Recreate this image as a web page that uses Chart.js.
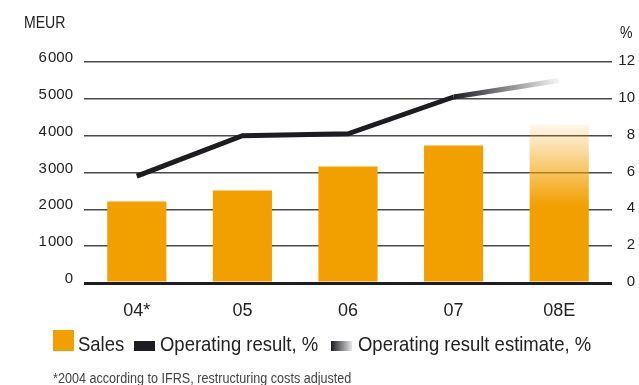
<!DOCTYPE html>
<html>
<head>
<meta charset="utf-8">
<script src="https://cdn.jsdelivr.net/npm/chart.js@4.4.1/dist/chart.umd.min.js"></script>
<style>
  body { margin: 0; background: #fff; }
  #wrap { position: relative; width: 639px; height: 385px; overflow: hidden;
          font-family: 'Liberation Sans', Arial, sans-serif; color: #222; }
  #chart { position: absolute; left: 0; top: 0; }
  .txt { position: absolute; white-space: nowrap; transform: scaleX(0.88); transform-origin: 0 0; }
  .unit { font-size: 16px; line-height: 16px; }
  .leg { font-size: 21px; line-height: 21px; top: 333px; }
  .sw { position: absolute; width: 21px; }
  #note { left: 53px; top: 371px; font-size: 14px; line-height: 14px; color: #444; transform: scaleX(0.9); }
</style>
</head>
<body>
<div id="wrap">
  <canvas id="chart" width="639" height="385"></canvas>
  <div class="txt unit" style="left:24px;top:15px">MEUR</div>
  <div class="txt unit" style="left:620px;top:25px">%</div>
  <div id="legend"></div>
  <div id="note" class="txt">*2004 according to IFRS, restructuring costs adjusted</div>
</div>
<script>
// categories and values
const years = ['04*', '05', '06', '07', '08E'];
const sales = [2210, 2510, 3160, 3730, 4300];          // MEUR
const opResult = [5.8, 8.0, 8.1, 10.1, null];           // %
const opEstimate = [null, null, null, 10.1, 11.0];      // %
const salesTicks = [0, 1000, 2000, 3000, 4000, 5000, 6000];
const salesTickLabels = ['0', '1\u200a000', '2\u200a000', '3\u200a000', '4\u200a000', '5\u200a000', '6\u200a000'];
const pctTicks = [0, 2, 4, 6, 8, 10, 12];
const pctTickLabels = ['0', '2', '4', '6', '8', '10', '12'];

const ORANGE = '#f2a000';
const INK = '#1c1c22';
const FONT = "'Liberation Sans', Arial, sans-serif";
const estIndex = years.length - 1;

// legend: swatch + label, laid out left to right
const legendItems = [
  { label: 'Sales', bg: ORANGE, h: 21, x: 53, tx: 78 },
  { label: 'Operating result, %', bg: INK, h: 10, x: 134, tx: 160 },
  { label: 'Operating result estimate, %', bg: 'linear-gradient(to right, ' + INK + ', #e6e6e6)', h: 10, x: 331, tx: 358 }
];
const legendEl = document.getElementById('legend');
legendItems.forEach(it => {
  const sw = document.createElement('div');
  sw.className = 'sw';
  sw.style.cssText = 'left:' + it.x + 'px;top:' + (351 - it.h) + 'px;height:' + it.h + 'px;background:' + it.bg;
  const t = document.createElement('div');
  t.className = 'txt leg';
  t.style.left = it.tx + 'px';
  t.textContent = it.label;
  legendEl.appendChild(sw);
  legendEl.appendChild(t);
});

// estimate bar fades out towards its top
function barFill(c) {
  if (c.dataIndex !== estIndex) return ORANGE;
  const chart = c.chart;
  if (!chart.chartArea) return ORANGE;
  const y = chart.scales.y;
  const top = y.getPixelForValue(sales[estIndex]);
  const base = y.getPixelForValue(0);
  const g = chart.ctx.createLinearGradient(0, top, 0, top + (base - top) * 0.51);
  g.addColorStop(0, 'rgba(242,160,0,0.08)');
  g.addColorStop(1, ORANGE);
  return g;
}

// estimate line fades from black to white
function estStroke(c) {
  const chart = c.chart;
  if (!chart.chartArea) return INK;
  const x = chart.scales.x;
  const g = chart.ctx.createLinearGradient(x.getPixelForValue(estIndex - 1), 0, x.getPixelForValue(estIndex), 0);
  g.addColorStop(0, INK);
  g.addColorStop(1, '#f6f6f6');
  return g;
}

const lineStyle = { type: 'line', yAxisID: 'y1', borderWidth: 5, pointRadius: 0, tension: 0,
                    borderCapStyle: 'butt', borderJoinStyle: 'miter', order: 0, spanGaps: false };

new Chart(document.getElementById('chart').getContext('2d'), {
  data: {
    labels: years,
    datasets: [
      Object.assign({ label: 'Operating result, %', data: opResult, borderColor: INK }, lineStyle),
      Object.assign({ label: 'Operating result estimate, %', data: opEstimate, borderColor: estStroke }, lineStyle),
      { type: 'bar', label: 'Sales', data: sales, yAxisID: 'y', backgroundColor: barFill,
        barPercentage: 0.56, categoryPercentage: 1, order: 1 }
    ]
  },
  options: {
    responsive: false,
    animation: false,
    layout: { padding: { top: 62, right: 4, left: 0, bottom: 0 } },
    plugins: { legend: { display: false }, tooltip: { enabled: false } },
    scales: {
      x: {
        grid: { display: false, drawTicks: false },
        border: { display: false },
        ticks: { color: '#222', font: { family: FONT, size: 18 }, padding: 17 },
        afterFit: s => { s.height = 102; }
      },
      y: {
        position: 'left', min: 0, max: 6000,
        afterBuildTicks: s => { s.ticks = salesTicks.map(v => ({ value: v })); },
        ticks: { color: '#222', font: { family: FONT, size: 15 }, padding: 11, labelOffset: -4,
                 callback: v => salesTickLabels[salesTicks.indexOf(v)] },
        grid: { drawTicks: false, color: c => c.tick && c.tick.value === 0 ? '#1c1c22' : '#4a4a4a',
                lineWidth: c => c.tick && c.tick.value === 0 ? 3 : 1.5 },
        border: { display: false },
        afterFit: s => { s.width = 84; }
      },
      y1: {
        position: 'right', min: 0, max: 12,
        afterBuildTicks: s => { s.ticks = pctTicks.map(v => ({ value: v })); },
        ticks: { color: '#222', font: { family: FONT, size: 15 }, crossAlign: 'far', padding: 7, labelOffset: -1,
                 callback: v => pctTickLabels[pctTicks.indexOf(v)] },
        grid: { display: false, drawTicks: false },
        border: { display: false },
        afterFit: s => { s.width = 23; }
      }
    }
  }
});
</script>
</body>
</html>
